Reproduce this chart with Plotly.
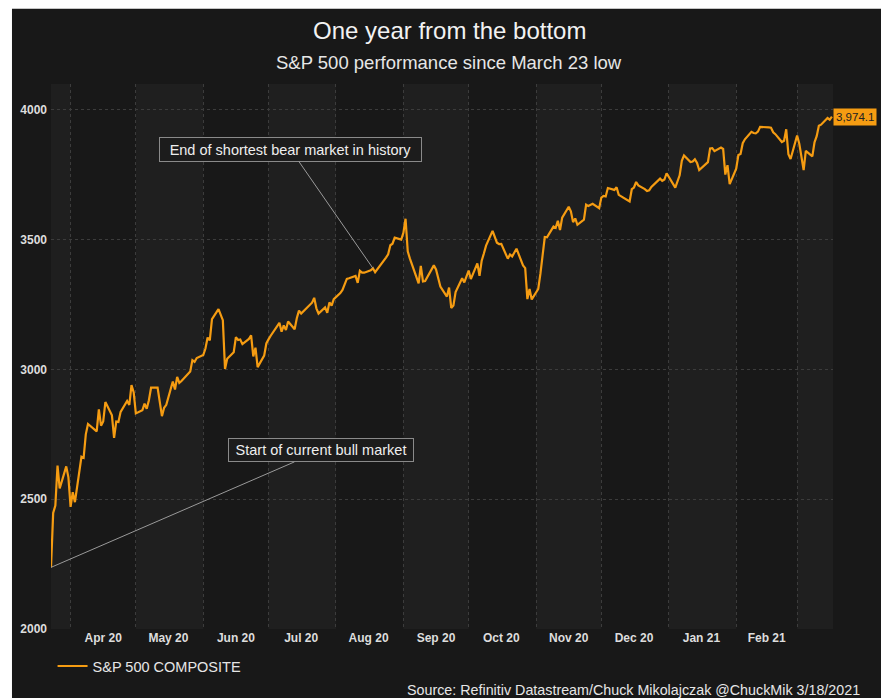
import plotly.graph_objects as go

dates = [
"2020-03-23","2020-03-24","2020-03-25","2020-03-26","2020-03-27","2020-03-30","2020-03-31",
"2020-04-01","2020-04-02","2020-04-03","2020-04-06","2020-04-07","2020-04-08","2020-04-09","2020-04-13","2020-04-14","2020-04-15","2020-04-16","2020-04-17","2020-04-20","2020-04-21","2020-04-22","2020-04-23","2020-04-24","2020-04-27","2020-04-28","2020-04-29","2020-04-30",
"2020-05-01","2020-05-04","2020-05-05","2020-05-06","2020-05-07","2020-05-08","2020-05-11","2020-05-12","2020-05-13","2020-05-14","2020-05-15","2020-05-18","2020-05-19","2020-05-20","2020-05-21","2020-05-22","2020-05-26","2020-05-27","2020-05-28","2020-05-29",
"2020-06-01","2020-06-02","2020-06-03","2020-06-04","2020-06-05","2020-06-08","2020-06-09","2020-06-10","2020-06-11","2020-06-12","2020-06-15","2020-06-16","2020-06-17","2020-06-18","2020-06-19","2020-06-22","2020-06-23","2020-06-24","2020-06-25","2020-06-26","2020-06-29","2020-06-30",
"2020-07-01","2020-07-02","2020-07-06","2020-07-07","2020-07-08","2020-07-09","2020-07-10","2020-07-13","2020-07-14","2020-07-15","2020-07-16","2020-07-17","2020-07-20","2020-07-21","2020-07-22","2020-07-23","2020-07-24","2020-07-27","2020-07-28","2020-07-29","2020-07-30","2020-07-31",
"2020-08-03","2020-08-04","2020-08-05","2020-08-06","2020-08-07","2020-08-10","2020-08-11","2020-08-12","2020-08-13","2020-08-14","2020-08-17","2020-08-18","2020-08-19","2020-08-20","2020-08-21","2020-08-24","2020-08-25","2020-08-26","2020-08-27","2020-08-28","2020-08-31",
"2020-09-01","2020-09-02","2020-09-03","2020-09-04","2020-09-08","2020-09-09","2020-09-10","2020-09-11","2020-09-14","2020-09-15","2020-09-16","2020-09-17","2020-09-18","2020-09-21","2020-09-22","2020-09-23","2020-09-24","2020-09-25","2020-09-28","2020-09-29","2020-09-30",
"2020-10-01","2020-10-02","2020-10-05","2020-10-06","2020-10-07","2020-10-08","2020-10-09","2020-10-12","2020-10-13","2020-10-14","2020-10-15","2020-10-16","2020-10-19","2020-10-20","2020-10-21","2020-10-22","2020-10-23","2020-10-26","2020-10-27","2020-10-28","2020-10-29","2020-10-30",
"2020-11-02","2020-11-03","2020-11-04","2020-11-05","2020-11-06","2020-11-09","2020-11-10","2020-11-11","2020-11-12","2020-11-13","2020-11-16","2020-11-17","2020-11-18","2020-11-19","2020-11-20","2020-11-23","2020-11-24","2020-11-25","2020-11-27","2020-11-30",
"2020-12-01","2020-12-02","2020-12-03","2020-12-04","2020-12-07","2020-12-08","2020-12-09","2020-12-10","2020-12-11","2020-12-14","2020-12-15","2020-12-16","2020-12-17","2020-12-18","2020-12-21","2020-12-22","2020-12-23","2020-12-24","2020-12-28","2020-12-29","2020-12-30","2020-12-31",
"2021-01-04","2021-01-05","2021-01-06","2021-01-07","2021-01-08","2021-01-11","2021-01-12","2021-01-13","2021-01-14","2021-01-15","2021-01-19","2021-01-20","2021-01-21","2021-01-22","2021-01-25","2021-01-26","2021-01-27","2021-01-28","2021-01-29",
"2021-02-01","2021-02-02","2021-02-03","2021-02-04","2021-02-05","2021-02-08","2021-02-09","2021-02-10","2021-02-11","2021-02-12","2021-02-16","2021-02-17","2021-02-18","2021-02-19","2021-02-22","2021-02-23","2021-02-24","2021-02-25","2021-02-26",
"2021-03-01","2021-03-02","2021-03-03","2021-03-04","2021-03-05","2021-03-08","2021-03-09","2021-03-10","2021-03-11","2021-03-12","2021-03-15","2021-03-16","2021-03-17",
]

closes = [
2237.40,2447.33,2475.56,2630.07,2541.47,2626.65,2584.59,
2470.50,2526.90,2488.65,2663.68,2659.41,2749.98,2789.82,2761.63,2846.06,2783.36,2799.55,2874.56,2823.16,2736.56,2799.31,2797.80,2836.74,2878.48,2863.39,2939.51,2912.43,
2830.71,2842.74,2868.44,2848.42,2881.19,2929.80,2930.32,2870.12,2820.00,2852.50,2863.70,2953.91,2922.94,2971.61,2948.51,2955.45,2991.77,3036.13,3029.73,3044.31,
3055.73,3080.82,3122.87,3112.35,3193.93,3232.39,3207.18,3190.14,3002.10,3041.31,3066.59,3124.74,3113.49,3115.34,3097.74,3117.86,3131.29,3050.33,3083.76,3009.05,3053.24,3100.29,
3115.86,3130.01,3179.72,3145.32,3169.94,3152.05,3185.04,3155.22,3197.52,3226.56,3215.57,3224.73,3251.84,3257.30,3276.02,3235.66,3215.63,3239.41,3218.44,3258.44,3246.22,3271.12,
3294.61,3306.51,3327.77,3349.16,3351.28,3360.47,3333.69,3380.35,3373.43,3372.85,3381.99,3389.78,3374.85,3385.51,3397.16,3431.28,3443.62,3478.73,3484.55,3508.01,3500.31,
3526.65,3580.84,3455.06,3426.96,3331.84,3398.96,3339.19,3340.97,3383.54,3401.20,3385.49,3357.01,3319.47,3281.06,3315.57,3236.92,3246.59,3298.46,3351.60,3335.47,3363.00,
3380.80,3348.42,3408.60,3360.97,3419.44,3446.83,3477.14,3534.22,3511.93,3488.67,3483.34,3483.81,3426.92,3443.12,3435.56,3453.49,3465.39,3400.97,3390.68,3271.03,3310.11,3269.96,
3310.24,3369.16,3443.44,3510.45,3509.44,3550.50,3545.53,3572.66,3537.01,3585.15,3626.91,3609.53,3567.79,3581.87,3557.54,3577.59,3635.41,3629.65,3638.35,3621.63,
3662.45,3669.01,3666.72,3699.12,3691.96,3702.25,3672.82,3668.10,3663.46,3647.49,3694.62,3701.17,3722.48,3709.41,3694.92,3687.26,3690.01,3703.06,3735.36,3727.04,3732.04,3756.07,
3700.65,3726.86,3748.14,3803.79,3824.68,3799.61,3801.19,3809.84,3795.54,3768.25,3798.91,3851.85,3853.07,3841.47,3855.36,3849.62,3750.77,3787.38,3714.24,
3773.86,3826.31,3830.17,3871.74,3886.83,3915.59,3911.23,3909.88,3916.38,3934.83,3932.59,3931.33,3913.97,3906.71,3876.50,3881.37,3925.43,3829.34,3811.15,
3901.82,3870.29,3819.72,3768.47,3841.94,3821.35,3875.44,3898.81,3939.34,3943.34,3968.94,3962.71,3974.12,
]

month_starts = ["2020-04-01","2020-05-01","2020-06-01","2020-07-01","2020-08-01","2020-09-01",
                "2020-10-01","2020-11-01","2020-12-01","2021-01-01","2021-02-01","2021-03-01"]
tick_vals = ["2020-04-16","2020-05-16","2020-06-16","2020-07-16","2020-08-16","2020-09-16",
             "2020-10-16","2020-11-16","2020-12-16","2021-01-16","2021-02-15"]
tick_text = ["Apr 20","May 20","Jun 20","Jul 20","Aug 20","Sep 20","Oct 20","Nov 20","Dec 20","Jan 21","Feb 21"]
y_ticks = [2000, 2500, 3000, 3500, 4000]

x_start = "2020-03-23"
x_end = "2021-03-17 12:00"

BG = "#181818"
BAND = "#1f1f1f"
ORANGE = "#f59c12"
FONT = "Liberation Sans, Arial, sans-serif"

fig = go.Figure()
fig.add_trace(go.Scatter(x=dates, y=closes, mode="lines", name="S&P 500 COMPOSITE",
                         line=dict(color=ORANGE, width=2.2)))

shapes = [
    dict(type="rect", xref="paper", yref="paper", x0=-0.0499, x1=1.066, y0=-0.2, y1=1.138,
         fillcolor=BG, line=dict(width=0), layer="below"),
]
bounds = [x_start] + month_starts + [x_end]
for i in range(0, len(bounds) - 1, 2):
    shapes.append(dict(type="rect", xref="x", yref="paper", x0=bounds[i], x1=bounds[i + 1],
                       y0=0, y1=1, fillcolor=BAND, line=dict(width=0), layer="below"))

annotations = [
    dict(text="One year from the bottom", xref="paper", yref="paper", x=0.509, y=1.099,
         showarrow=False, font=dict(family=FONT, size=24, color="#f2f2f2"), yanchor="middle"),
    dict(text="S&P 500 performance since March 23 low", xref="paper", yref="paper", x=0.509, y=1.040,
         showarrow=False, font=dict(family=FONT, size=18.5, color="#e6e6e6"), yanchor="middle"),
    dict(text="End of shortest bear market in history", x="2020-08-18", y=3389.78, xref="x", yref="y",
         ax=-82.5, ay=-119, showarrow=True, arrowhead=0, arrowwidth=1, arrowcolor="#9a9a9a",
         font=dict(family=FONT, size=14.5, color="#eeeeee"), bgcolor="#1c1c1c",
         bordercolor="#8a8a8a", borderwidth=1, borderpad=3, width=255, height=17),
    dict(text="Start of current bull market", x="2020-03-23", y=2237.40, xref="x", yref="y",
         ax=270, ay=-117, showarrow=True, arrowhead=0, arrowwidth=1, arrowcolor="#9a9a9a",
         font=dict(family=FONT, size=14.5, color="#eeeeee"), bgcolor="#1c1c1c",
         bordercolor="#8a8a8a", borderwidth=1, borderpad=3, width=178, height=16),
    dict(text="3,974.1", x=dates[-1], y=closes[-1], xref="x", yref="y", showarrow=False,
         xanchor="left", yanchor="middle", xshift=1,
         font=dict(family=FONT, size=11.5, color="#222222"), bgcolor=ORANGE, borderpad=2),
    dict(text="Source: Refinitiv Datastream/Chuck Mikolajczak @ChuckMik 3/18/2021", xref="paper", yref="paper",
         x=1.037, y=-0.112, xanchor="right", yanchor="middle", showarrow=False,
         font=dict(family=FONT, size=14.3, color="#e6e6e6")),
]

fig.update_layout(
    width=881, height=690,
    margin=dict(l=43, r=56, t=76, b=69),
    paper_bgcolor="white", plot_bgcolor=BG,
    shapes=shapes, annotations=annotations,
    showlegend=True,
    legend=dict(orientation="h", x=0.002, y=-0.068, xanchor="left", yanchor="middle",
                font=dict(family=FONT, size=14.5, color="#e6e6e6"), bgcolor="rgba(0,0,0,0)"),
    xaxis=dict(type="date", range=[x_start, x_end], tickvals=tick_vals, ticktext=tick_text,
               showgrid=False, zeroline=False, showline=False, ticks="",
               tickfont=dict(family=FONT, size=12, color="#dddddd", weight="bold"),
               minor=dict(tickvals=month_starts, showgrid=True, gridcolor="#3c3c3c",
                          griddash="dot", gridwidth=1, ticks="")),
    yaxis=dict(range=[2000, 4100], tickvals=y_ticks, showgrid=True, gridcolor="#3c3c3c",
               griddash="dot", gridwidth=1, zeroline=False, showline=False, ticks="", ticklen=0,
               tickfont=dict(family=FONT, size=12, color="#dddddd", weight="bold"),
               ticklabelstandoff=3),
)

fig.write_html("out.html")
